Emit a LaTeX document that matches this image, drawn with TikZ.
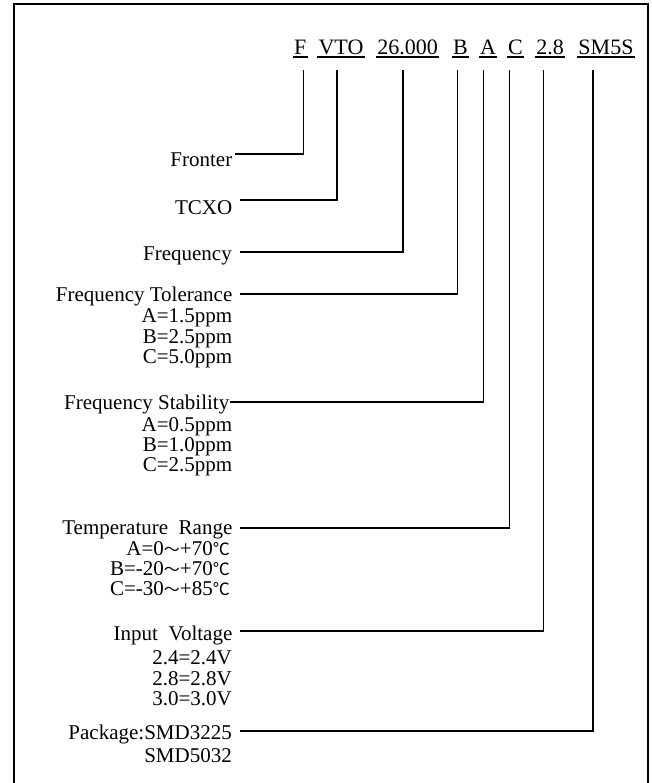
\documentclass[tikz,border=0pt]{standalone}
\usepackage{fontspec}
\setmainfont{Liberation Serif}
\newfontfamily\cjk{Noto Sans CJK SC}
\newcommand{\tld}{\smash{\cjk\fontsize{16}{16}\selectfont ～}}
\newcommand{\degc}{\smash{\cjk\fontsize{17}{17}\selectfont ℃}}
\begin{document}
\begin{tikzpicture}[x=1pt,y=-1pt,
  lab/.style={anchor=base east,inner sep=0pt,font=\fontsize{21}{21}\selectfont},
  code/.style={anchor=base,inner sep=0pt,font=\fontsize{22}{22}\selectfont},
  conn/.style={line width=1.6pt},
  ul/.style={line width=1.3pt},
  frame/.style={line width=2pt}]
\useasboundingbox (0,0) rectangle (652,783);
\clip (0,0) rectangle (652,783);
\draw[frame] (14,800) -- (14,4) -- (648,4) -- (648,800);
% code row
\node[code] (cF)  at (300.3,55) {F};
\node[code] (cV)  at (341,55)   {VTO};
\node[code] (cN)  at (407.5,55) {26.000};
\node[code] (cB)  at (460.5,55) {B};
\node[code] (cA)  at (488,55)   {A};
\node[code] (cC)  at (515.5,55) {C};
\node[code] (cD)  at (550,55)   {2.8};
\node[code] (cS)  at (606,55)   {SM5S};
\foreach \n in {cF,cV,cN,cB,cA,cC,cD,cS}
  \draw[ul] ([xshift=-1pt,yshift=-2pt]\n.base west) -- ([xshift=1pt,yshift=-2pt]\n.base east);
% tops of the connectors
\coordinate (tF) at (303.3,70);
\coordinate (tV) at (336.7,70);
\coordinate (tN) at (403,70);
\coordinate (tB) at (457.5,70);
\coordinate (tA) at (483.3,70);
\coordinate (tC) at (509.5,70);
\coordinate (tD) at (543.3,70);
\coordinate (tS) at (593,70);
% labels
\node[lab] (lF)   at (232.5,166.5) {Fronter};
\node[lab] (lT)   at (232.5,214.5) {TCXO};
\node[lab] (lFr)  at (232,261)     {Frequency};
\node[lab] (lTol) at (232.5,301)   {Frequency Tolerance};
\node[lab] (tol1) at (232.5,322.5) {A=1.5ppm};
\node[lab] (tol2) at (232.5,343)   {B=2.5ppm};
\node[lab] (tol3) at (232.5,363)   {C=5.0ppm};
\node[lab] (lSt)  at (229.5,409)   {Frequency Stability};
\node[lab] (st1)  at (232.5,431.5) {A=0.5ppm};
\node[lab] (st2)  at (232.5,451.5) {B=1.0ppm};
\node[lab] (st3)  at (232.5,471)   {C=2.5ppm};
\node[lab] (lTe)  at (232.5,534)   {Temperature\ \ Range};
\node[lab] (te1)  at (230,555)     {A=0\tld+70\degc};
\node[lab] (te2)  at (230,575)     {B=-20\tld+70\degc};
\node[lab] (te3)  at (230,595)     {C=-30\tld+85\degc};
\node[lab] (lIn)  at (232.5,640)   {Input\ \ Voltage};
\node[lab] (in1)  at (232,664.5)   {2.4=2.4V};
\node[lab] (in2)  at (232,685)     {2.8=2.8V};
\node[lab] (in3)  at (232,705)     {3.0=3.0V};
\node[lab] (lPk)  at (232,739)     {Package:SMD3225};
\node[lab] (pk2)  at (232,762)     {SMD5032};
% connector start points
\coordinate (aF)   at (235,154);
\coordinate (aT)   at (240,200);
\coordinate (aFr)  at (240,252);
\coordinate (aTol) at (240,294);
\coordinate (aSt)  at (230,402);
\coordinate (aTe)  at (240,528);
\coordinate (aIn)  at (240,631);
\coordinate (aPk)  at (240,731);
\draw[conn] (aF)   -| (tF);
\draw[conn] (aT)   -| (tV);
\draw[conn] (aFr)  -| (tN);
\draw[conn] (aTol) -| (tB);
\draw[conn] (aSt)  -| (tA);
\draw[conn] (aTe)  -| (tC);
\draw[conn] (aIn)  -| (tD);
\draw[conn] (aPk)  -| (tS);
\end{tikzpicture}
\end{document}
